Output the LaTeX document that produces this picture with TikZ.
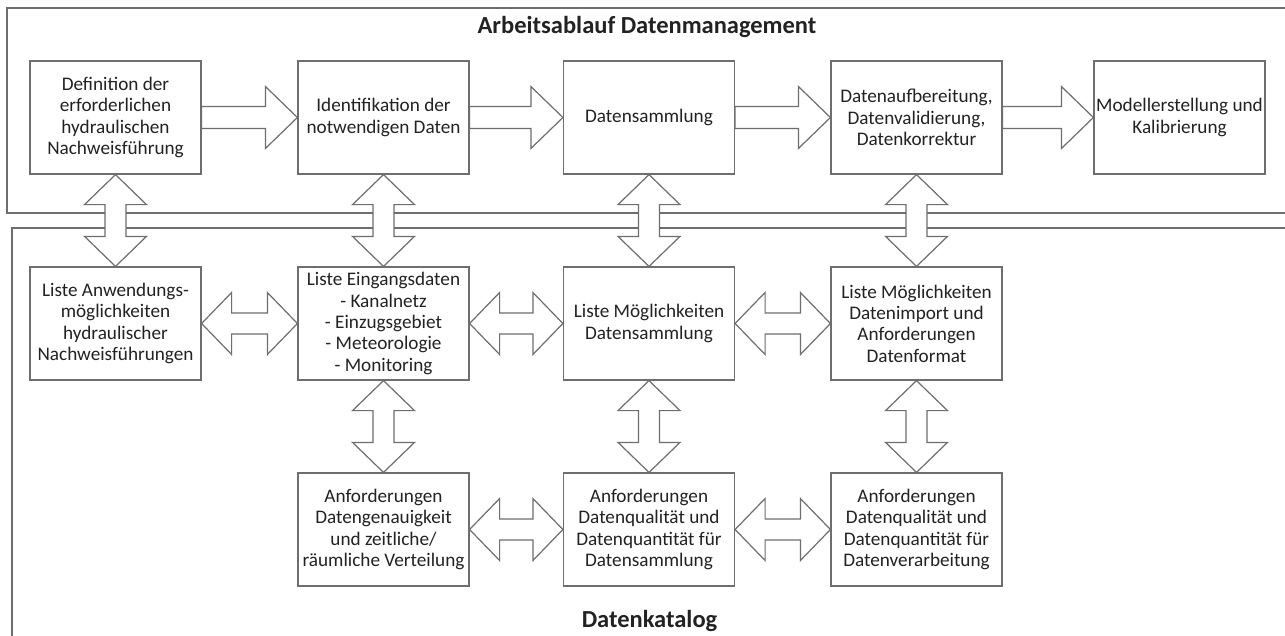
\documentclass[tikz,border=0pt]{standalone}
\usepackage{fontspec}
\setmainfont{Carlito}
\usetikzlibrary{calc}
\definecolor{linec}{HTML}{6E6E6E}
\definecolor{textc}{HTML}{222222}
\begin{document}
\begin{tikzpicture}[x=1pt,y=-1pt,
  box/.style={draw=linec, fill=white, line width=1.2pt, minimum width=171pt, minimum height=113pt,
    align=center, text=textc, inner sep=2pt, font=\fontsize{19.2}{21.3}\selectfont},
  frameline/.style={draw=linec, line width=1.2pt},
  titletext/.style={text=textc, font=\bfseries\fontsize{24.5}{28}\selectfont, anchor=base},
  harrow/.style={draw=linec, fill=white, line width=1.2pt, line join=miter,
    to path={-- ($(\tikztostart)+(0,-11)$) -- ($(\tikztotarget)+(-32,-11)$) -- ($(\tikztotarget)+(-32,-31)$)
      -- (\tikztotarget) -- ($(\tikztotarget)+(-32,31)$) -- ($(\tikztotarget)+(-32,11)$)
      -- ($(\tikztostart)+(0,11)$) -- cycle}},
  hdbl/.style={draw=linec, fill=white, line width=1.2pt, line join=miter,
    to path={-- ($(\tikztostart)+(30,-31)$) -- ($(\tikztostart)+(30,-10.5)$) -- ($(\tikztotarget)+(-30,-10.5)$)
      -- ($(\tikztotarget)+(-30,-31)$) -- (\tikztotarget) -- ($(\tikztotarget)+(-30,31)$)
      -- ($(\tikztotarget)+(-30,10.5)$) -- ($(\tikztostart)+(30,10.5)$) -- ($(\tikztostart)+(30,31)$) -- cycle}},
  vdbl/.style={draw=linec, fill=white, line width=1.2pt, line join=miter,
    to path={-- ($(\tikztostart)+(31,30)$) -- ($(\tikztostart)+(10.5,30)$) -- ($(\tikztotarget)+(10.5,-30)$)
      -- ($(\tikztotarget)+(31,-30)$) -- (\tikztotarget) -- ($(\tikztotarget)+(-31,-30)$)
      -- ($(\tikztotarget)+(-10.5,-30)$) -- ($(\tikztostart)+(-10.5,30)$) -- ($(\tikztostart)+(-31,30)$) -- cycle}}
]
\useasboundingbox[fill=white] (0,0) rectangle (1285,635);

% frames
\draw[frameline] (1285,8) -- (7,8) -- (7,213) -- (1285,213);
\draw[frameline] (1285,228) -- (12,228) -- (12,636);

\node[titletext] (t1) at (647,33) {Arbeitsablauf Datenmanagement};
\node[titletext] (t2) at (649.5,627) {Datenkatalog};

% row 1
\node[box] (a1) at (115.5,117.5) {Definition der\\erforderlichen\\hydraulischen\\Nachweisführung};
\node[box] (a2) at (383.5,117.5) {Identifikation der\\notwendigen Daten};
\node[box] (a3) at (649,117.5) {Datensammlung};
\node[box] (a4) at (916.5,117.5) {Datenaufbereitung,\\Datenvalidierung,\\Datenkorrektur};
\node[box] (a5) at (1179.5,117.5) {Modellerstellung und\\Kalibrierung};

% row 2
\node[box] (b1) at (115.5,323.5) {Liste Anwendungs-\\möglichkeiten\\hydraulischer\\Nachweisführungen};
\node[box] (b2) at (383.5,323.5) {Liste Eingangsdaten\\- Kanalnetz\\- Einzugsgebiet\\- Meteorologie\\- Monitoring};
\node[box] (b3) at (649,323.5) {Liste Möglichkeiten\\Datensammlung};
\node[box] (b4) at (916.5,323.5) {Liste Möglichkeiten\\Datenimport und\\Anforderungen\\Datenformat};

% row 3
\node[box] (c1) at (383.5,529.5) {Anforderungen\\Datengenauigkeit\\und zeitliche/\\räumliche Verteilung};
\node[box] (c2) at (649,529.5) {Anforderungen\\Datenqualität und\\Datenquantität für\\Datensammlung};
\node[box] (c3) at (916.5,529.5) {Anforderungen\\Datenqualität und\\Datenquantität für\\Datenverarbeitung};

% row 1 arrows
\draw[harrow] (a1.east) to (a2.west);
\draw[harrow] (a2.east) to (a3.west);
\draw[harrow] (a3.east) to (a4.west);
\draw[harrow] (a4.east) to (a5.west);

% vertical row1-row2
\draw[vdbl] (a1.south) to (b1.north);
\draw[vdbl] (a2.south) to (b2.north);
\draw[vdbl] (a3.south) to (b3.north);
\draw[vdbl] (a4.south) to (b4.north);

% row 2 arrows
\draw[hdbl] (b1.east) to (b2.west);
\draw[hdbl] (b2.east) to (b3.west);
\draw[hdbl] (b3.east) to (b4.west);

% vertical row2-row3
\draw[vdbl] (b2.south) to (c1.north);
\draw[vdbl] (b3.south) to (c2.north);
\draw[vdbl] (b4.south) to (c3.north);

% row 3 arrows
\draw[hdbl] (c1.east) to (c2.west);
\draw[hdbl] (c2.east) to (c3.west);
\end{tikzpicture}
\end{document}
